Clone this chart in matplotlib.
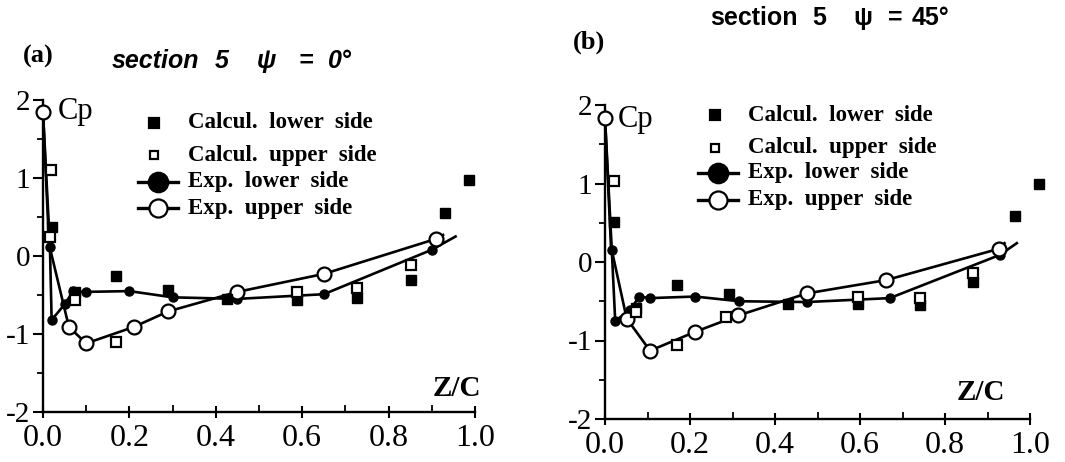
import matplotlib
matplotlib.use("Agg")
import matplotlib.pyplot as plt
from matplotlib.lines import Line2D
from matplotlib.ticker import MultipleLocator

plt.rcParams['axes.unicode_minus'] = False

W, H = 1065, 462

# ---------------- data: panel (a)  psi = 0 deg ----------------
a_calc_lower_x = [0.02, 0.074, 0.169, 0.29, 0.425, 0.587, 0.726, 0.853, 0.93, 0.985]
a_calc_lower_y = [0.37, -0.46, -0.26, -0.43, -0.55, -0.56, -0.54, -0.31, 0.55, 0.97]
a_calc_upper_x = [0.018, 0.016, 0.074, 0.169, 0.587, 0.726, 0.853]
a_calc_upper_y = [1.10, 0.25, -0.56, -1.10, -0.46, -0.41, -0.12]
a_exp_lower_x = [0.016, 0.02, 0.05, 0.07, 0.10, 0.20, 0.30, 0.45, 0.65, 0.90]
a_exp_lower_y = [0.12, -0.82, -0.62, -0.45, -0.46, -0.45, -0.53, -0.55, -0.49, 0.08]
a_exp_upper_x = [0.0, 0.06, 0.10, 0.21, 0.29, 0.45, 0.65, 0.91]
a_exp_upper_y = [1.85, -0.91, -1.12, -0.91, -0.71, -0.46, -0.23, 0.22]
# fitted curve end points (leading edge / trailing extension)
a_lower_lead = (0.0, 1.85)
a_lower_tail = (0.955, 0.25)
a_upper_via = (0.014, 0.15)
a_upper_tail = (0.926, 0.27)

# ---------------- data: panel (b)  psi = 45 deg ----------------
b_calc_lower_x = [0.02, 0.074, 0.17, 0.292, 0.43, 0.596, 0.74, 0.867, 0.965, 1.02]
b_calc_lower_y = [0.51, -0.59, -0.29, -0.41, -0.53, -0.53, -0.55, -0.25, 0.58, 1.00]
b_calc_upper_x = [0.02, 0.074, 0.17, 0.285, 0.596, 0.74, 0.867]
b_calc_upper_y = [1.03, -0.64, -1.06, -0.70, -0.44, -0.46, -0.14]
b_exp_lower_x = [0.016, 0.024, 0.059, 0.081, 0.106, 0.212, 0.316, 0.475, 0.67, 0.929]
b_exp_lower_y = [0.15, -0.75, -0.61, -0.44, -0.46, -0.44, -0.50, -0.51, -0.46, 0.09]
b_exp_upper_x = [0.0, 0.051, 0.106, 0.212, 0.314, 0.475, 0.662, 0.928]
b_exp_upper_y = [1.84, -0.72, -1.13, -0.89, -0.68, -0.40, -0.23, 0.17]
b_lower_lead = (0.0, 1.84)
b_lower_tail = (0.969, 0.24)
b_upper_via = (0.014, 0.20)
b_upper_tail = (0.94, 0.24)

x_ticks = [0.0, 0.2, 0.4, 0.6, 0.8, 1.0]
x_tick_labels = ["0.0", "0.2", "0.4", "0.6", "0.8", "1.0"]
y_ticks = [-2, -1, 0, 1, 2]
y_tick_labels = ["-2", "-1", "0", "1", "2"]
legend_labels = ["Calcul.  lower  side", "Calcul.  upper  side",
                 "Exp.  lower  side", "Exp.  upper  side"]

SERIF = "Liberation Serif"
SANS = "Liberation Sans"

fig = plt.figure(figsize=(W / 100, H / 100), dpi=100)


def fx(px):
    return px / W


def fy(py):
    return 1 - py / H


def make_axes(left, right, ybot, ytop):
    ax = fig.add_axes([fx(left), fy(ybot), fx(right - left), (ybot - ytop) / H])
    ax.set_xlim(0, 1.0)
    ax.set_ylim(-2, 2)
    for s in ("top", "right"):
        ax.spines[s].set_visible(False)
    for s in ("left", "bottom"):
        ax.spines[s].set_linewidth(1.7)
    ax.set_xticks(x_ticks)
    ax.set_xticklabels(x_tick_labels, fontfamily=SERIF, fontsize=23)
    ax.xaxis.set_minor_locator(MultipleLocator(0.1))
    ax.set_yticks(y_ticks)
    ax.set_yticklabels(y_tick_labels, fontfamily=SERIF, fontsize=21)
    ax.yaxis.set_minor_locator(MultipleLocator(0.5))
    ax.tick_params(axis="x", which="major", direction="inout", length=9, width=1.5, pad=4)
    ax.tick_params(axis="x", which="minor", direction="in", length=5, width=1.3)
    ax.tick_params(axis="y", which="major", direction="out", length=7, width=1.5, pad=2)
    ax.tick_params(axis="y", which="minor", direction="out", length=4, width=1.3)
    ax.patch.set_alpha(0)
    return ax


def draw_panel(ax, cl_x, cl_y, cu_x, cu_y, el_x, el_y, eu_x, eu_y,
               l_lead, l_tail, u_via, u_tail):
    # fitted experimental curves
    lx = [l_lead[0]] + el_x + [l_tail[0]]
    ly = [l_lead[1]] + el_y + [l_tail[1]]
    ux = [eu_x[0], u_via[0]] + eu_x[1:] + [u_tail[0]]
    uy = [eu_y[0], u_via[1]] + eu_y[1:] + [u_tail[1]]
    ax.plot(lx, ly, color="black", lw=1.9, zorder=2, clip_on=False)
    ax.plot(ux, uy, color="black", lw=1.9, zorder=2, clip_on=False)
    # experimental markers
    ax.plot(el_x, el_y, "o", ms=6.5, mfc="black", mec="black", ls="none", zorder=3, clip_on=False)
    ax.plot(eu_x, eu_y, "o", ms=10, mfc="white", mec="black", mew=1.6, ls="none", zorder=4, clip_on=False)
    # calculated markers
    ax.plot(cl_x, cl_y, "s", ms=7, mfc="black", mec="black", ls="none", zorder=5, clip_on=False)
    ax.plot(cu_x, cu_y, "s", ms=6.5, mfc="white", mec="black", mew=1.6, ls="none", zorder=6, clip_on=False)


def legend(x_sq, x_circ, x_text, rows):
    kinds = [("s", "black", 6.5, False), ("s", "white", 5.5, False),
             ("o", "black", 14, True), ("o", "white", 13, True)]
    for (mk, fc, ms, line), lab, yy in zip(kinds, legend_labels, rows):
        xm = x_circ if line else x_sq
        if line:
            fig.add_artist(Line2D([fx(xm - 20), fx(xm + 20)], [fy(yy), fy(yy)],
                                  color="black", lw=2.4))
        fig.add_artist(Line2D([fx(xm)], [fy(yy)], marker=mk, ms=ms, mfc=fc,
                              mec="black", mew=1.6, ls="none"))
        fig.text(fx(x_text), fy(yy), lab, fontfamily=SERIF, fontweight="bold",
                 fontsize=16.5, ha="left", va="center")


def title(pieces, yy, italic):
    for txt, xx in pieces:
        fig.text(fx(xx), fy(yy), txt, fontfamily=SANS, fontweight="bold",
                 fontstyle="italic" if italic else "normal", fontsize=18,
                 ha="left", va="center")


# ---------------- panel (a) ----------------
axa = make_axes(43, 475, 412, 100)
draw_panel(axa, a_calc_lower_x, a_calc_lower_y, a_calc_upper_x, a_calc_upper_y,
           a_exp_lower_x, a_exp_lower_y, a_exp_upper_x, a_exp_upper_y,
           a_lower_lead, a_lower_tail, a_upper_via, a_upper_tail)
fig.text(fx(23), fy(56), "(a)", fontfamily=SERIF, fontweight="bold", fontsize=19,
         ha="left", va="center")
title([("section", 112), ("5", 215), ("\u03c8", 257), ("=", 298), ("0\u00b0", 328)], 61, True)
fig.text(fx(58), fy(111), "Cp", fontfamily=SERIF, fontsize=22, ha="left", va="center")
fig.text(fx(433), fy(389), "Z/C", fontfamily=SERIF, fontweight="bold", fontsize=21,
         ha="left", va="center")
legend(154, 158, 188, [123, 155, 182, 208])

# ---------------- panel (b) ----------------
axb = make_axes(605, 1030, 419, 105)
draw_panel(axb, b_calc_lower_x, b_calc_lower_y, b_calc_upper_x, b_calc_upper_y,
           b_exp_lower_x, b_exp_lower_y, b_exp_upper_x, b_exp_upper_y,
           b_lower_lead, b_lower_tail, b_upper_via, b_upper_tail)
fig.text(fx(573), fy(42), "(b)", fontfamily=SERIF, fontweight="bold", fontsize=19,
         ha="left", va="center")
title([("section", 710), ("5", 812), ("\u03c8", 853), ("=", 888), ("45\u00b0", 912)], 18, False)
fig.text(fx(618), fy(120), "Cp", fontfamily=SERIF, fontsize=22, ha="left", va="center")
fig.text(fx(957), fy(393), "Z/C", fontfamily=SERIF, fontweight="bold", fontsize=21,
         ha="left", va="center")
legend(715, 718, 748, [115, 148, 173, 200])

fig.savefig("out.png", dpi=100)
